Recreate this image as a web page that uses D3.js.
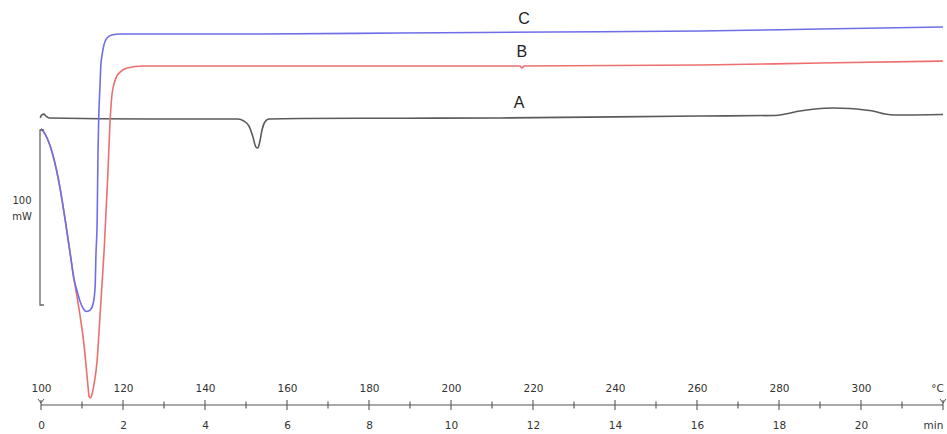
<!DOCTYPE html>
<html>
<head>
<meta charset="utf-8">
<script src="https://cdn.jsdelivr.net/npm/d3@7"></script>
<style>
  body { margin: 0; background: #fff; }
  svg { display: block; }
</style>
</head>
<body>
<div id="chart"></div>
<script>
// DSC traces, temperature in °C and heat flow in mW (relative)
const sharedTemp = [100.0, 100.5, 101.7, 102.9, 104.6, 105.9, 107.1, 108.0]
const sharedFlow = [0.6, -0.6, -5.7, -14.3, -32.6, -51.4, -70.3, -84.6]

const cTemp = [108.8, 109.5, 110.2, 111.0, 111.95, 112.7, 113.2, 113.4, 113.7, 113.9, 114.1, 114.4, 114.6, 114.9, 115.4, 116.1, 117.3, 119.3, 153.4, 187.6, 224.1, 260.7, 290.0, 320.0]
const cFlow = [-92.0, -97.7, -101.7, -103.7, -102.9, -99.4, -89.7, -71.4, -51.4, -13.1, 8.6, 25.7, 37.1, 42.9, 49.1, 52.6, 54.3, 54.9, 54.9, 55.4, 56.0, 56.6, 57.7, 58.9]

const bTemp = [108.8, 109.5, 110.2, 110.7, 111.2, 111.5, 111.7, 112.0, 112.4, 112.9, 113.7, 114.4, 115.4, 116.3, 116.8, 117.3, 117.8, 118.5, 119.3, 121.0, 124.9, 163.2, 215.6, 216.8, 217.3, 217.8, 260.7, 290.0, 320.0]
const bFlow = [-95.4, -105.7, -117.1, -127.4, -140.0, -147.4, -152.0, -153.1, -151.4, -145.7, -131.4, -105.7, -68.6, -25.7, 2.9, 20.0, 26.3, 30.9, 33.1, 35.4, 36.6, 36.6, 36.6, 36.6, 35.4, 36.6, 37.1, 38.3, 39.4]

const aTemp = [99.8, 100.2, 100.7, 101.2, 102.0, 126.6, 148.0, 149.5, 150.7, 151.7, 152.4, 152.9, 153.4, 153.9, 154.6, 155.6, 163.2, 212.0, 260.7, 279.0, 281.5, 285.1, 288.8, 293.2, 297.3, 301.0, 303.4, 305.9, 308.3, 320.0]
const aFlow = [6.9, 8.6, 9.1, 8.0, 6.9, 6.3, 6.3, 5.1, 2.3, -4.0, -9.7, -10.3, -6.3, 0, 4.6, 6.3, 6.6, 6.9, 8.0, 8.3, 9.1, 10.9, 12.0, 12.6, 12.3, 11.4, 10.6, 9.1, 8.6, 8.9]

const tempTicks = [100, 110, 120, 130, 140, 150, 160, 170, 180, 190, 200, 210, 220, 230, 240, 250, 260, 270, 280, 290, 300, 310, 320]
const tempLabels = [100, 120, 140, 160, 180, 200, 220, 240, 260, 280, 300]
const minLabels = [0, 2, 4, 6, 8, 10, 12, 14, 16, 18, 20]

const curveLabels = [
  { name: 'C', temp: 217.8, flow: 60.6 },
  { name: 'B', temp: 217.3, flow: 41.7 },
  { name: 'A', temp: 216.6, flow: 12.6 }
]

const width = 947
const height = 434

const svg = d3
  .select('#chart')
  .append('svg')
  .attr('width', width)
  .attr('height', height)

const xScale = d3.scaleLinear().domain([100, 320]).range([41, 943])
// time axis: 10 °C per minute
const tScale = d3.scaleLinear().domain([0, 22]).range([41, 943])
const yScale = d3.scaleLinear().domain([-100, 0]).range([305, 130])

const zip = (xs, ys) => xs.map((d, i) => ({ temp: d, flow: ys[i] }))

const series = [
  { name: 'A', color: '#5a5a5a', points: zip(aTemp, aFlow) },
  { name: 'B', color: '#ec6f6f', points: zip(sharedTemp, sharedFlow).concat(zip(bTemp, bFlow)) },
  { name: 'C', color: '#6e6ee8', points: zip(sharedTemp, sharedFlow).concat(zip(cTemp, cFlow)) }
]

const line = d3
  .line()
  .x(d => xScale(d.temp))
  .y(d => yScale(d.flow))
  .curve(d3.curveMonotoneX)

svg
  .selectAll('.trace')
  .data(series)
  .enter()
  .append('path')
  .attr('class', 'trace')
  .attr('d', d => line(d.points))
  .attr('fill', 'none')
  .attr('stroke', d => d.color)
  .attr('stroke-width', 1.6)
  .attr('stroke-linejoin', 'round')

// curve names
svg
  .selectAll('.curve-name')
  .data(curveLabels)
  .enter()
  .append('text')
  .attr('class', 'curve-name')
  .attr('x', d => xScale(d.temp))
  .attr('y', d => yScale(d.flow))
  .attr('text-anchor', 'middle')
  .attr('font-family', 'Liberation Sans, Arial, sans-serif')
  .attr('font-size', 16)
  .attr('fill', '#222')
  .text(d => d.name)

// 100 mW scale bar
const bar = svg.append('g').attr('stroke', '#666').attr('stroke-width', 1.3).attr('fill', 'none')
bar
  .append('path')
  .attr('d', 'M' + (xScale(100) + 3) + ',' + yScale(0) + 'H' + (xScale(100) - 1) + 'V' + yScale(-100) + 'H' + (xScale(100) + 3))

svg
  .append('text')
  .attr('x', 22)
  .attr('y', 204)
  .attr('text-anchor', 'middle')
  .attr('font-family', 'DejaVu Sans, sans-serif')
  .attr('font-size', 10)
  .attr('fill', '#333')
  .text('100')

svg
  .append('text')
  .attr('x', 22)
  .attr('y', 220)
  .attr('text-anchor', 'middle')
  .attr('font-family', 'DejaVu Sans, sans-serif')
  .attr('font-size', 10)
  .attr('fill', '#333')
  .text('mW')

// bottom axis: °C on top, min below
const axisY = 405
const axisG = svg.append('g').attr('transform', 'translate(0,' + axisY + ')')

axisG
  .append('line')
  .attr('x1', xScale(100))
  .attr('x2', xScale(320))
  .attr('stroke', '#555')
  .attr('stroke-width', 1.2)

axisG
  .selectAll('.tick-mark')
  .data(tempTicks)
  .enter()
  .append('line')
  .attr('class', 'tick-mark')
  .attr('x1', d => xScale(d))
  .attr('x2', d => xScale(d))
  .attr('y1', d => (d % 20 === 0 ? -5 : -3.5))
  .attr('y2', d => (d % 20 === 0 ? 5 : 3.5))
  .attr('stroke', '#555')
  .attr('stroke-width', 1.1)

// little arrow marks at the ends
axisG
  .selectAll('.end-mark')
  .data([100, 320])
  .enter()
  .append('path')
  .attr('class', 'end-mark')
  .attr('d', d => {
    const x = xScale(d)
    return 'M' + (x - 3) + ',-6L' + x + ',-2L' + (x + 3) + ',-6'
  })
  .attr('fill', 'none')
  .attr('stroke', '#555')
  .attr('stroke-width', 1)

const topAxis = d3
  .axisTop(xScale)
  .tickValues(tempLabels.concat([320]))
  .tickFormat(d => (d === 320 ? '°C' : d))
  .tickSize(0)
  .tickPadding(13)

const bottomAxis = d3
  .axisBottom(tScale)
  .tickValues(minLabels.concat([22]))
  .tickFormat(d => (d === 22 ? 'min' : d))
  .tickSize(0)
  .tickPadding(17)

axisG.append('g').attr('class', 'top-axis').call(topAxis)
axisG.append('g').attr('class', 'bottom-axis').call(bottomAxis)

axisG.selectAll('.domain').remove()
axisG
  .selectAll('.tick text')
  .attr('font-family', 'DejaVu Sans, sans-serif')
  .attr('font-size', 10.5)
  .attr('fill', '#333')

axisG.select('.top-axis').selectAll('.tick text').filter(d => d === 320).attr('dx', -6)
axisG.select('.bottom-axis').selectAll('.tick text').filter(d => d === 22).attr('dx', -10)
</script>
</body>
</html>
